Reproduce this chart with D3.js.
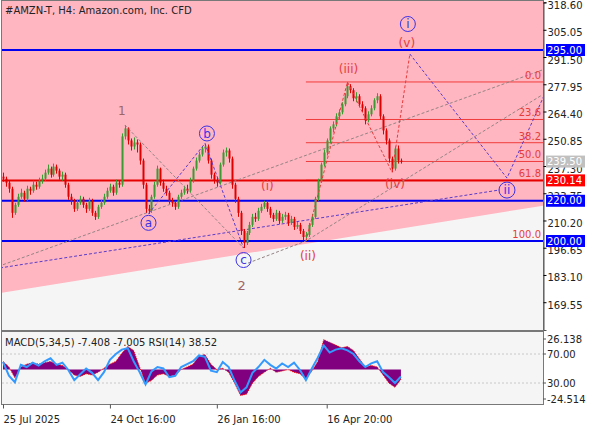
<!DOCTYPE html>
<html>
<head>
<meta charset="utf-8">
<script src="https://cdn.jsdelivr.net/npm/d3@7/dist/d3.min.js"></script>
<style>
  body { margin: 0; background: #fff; }
  svg { display: block; font-family: "DejaVu Sans", sans-serif; }
</style>
</head>
<body>
<svg id="chart"></svg>
<script>
// H4 candles, one value per bar (open = previous close)
const firstOpen = 232;
const closes = [231,229,226,214,218,222,224,221,226,225,228,227,230,231,234,236,233,237,235,232,
  233,228,222,220,216,219,221,218,216,220,214,212,217,219,222,225,227,224,229,228,
  252,256,250,247,249,248,240,228,216,215,222,228,236,229,226,224,220,219,217,222,
  224,226,225,230,236,240,243,246,247,240,233,230,229,238,244,245,241,228,221,214,
  205,199,204,208,212,211,215,217,219,216,213,211,214,210,212,213,209,211,207,208,
  205,202,203,208,212,221,230,238,244,250,256,258,262,264,268,272,277,275,271,272,
  268,266,260,263,266,270,272,262,255,250,241,236,246,240,239.5];
const highs = [234,232,230,227,219,223.5,226,225,227.5,227,230,229.5,231.5,233,235.5,238,237,238.5,238,236,
  234.5,234,229,223.5,221,220.5,222.5,222,219,221.5,221,215,218,220.5,223.5,226.5,228.5,228,230.5,230,
  253.5,257.7,256.5,251,251.5,250.5,249,241,229,218,223,229.5,237.5,236.5,230.5,227.5,225,221.5,220,223,
  225.5,227.5,228,231.5,237,241.5,244.5,247,248.5,248,241,234,231.5,239,245.5,246.5,246,242,229,222,
  215,206,205,209.5,213.5,214,216.5,218.5,220,220,217,214,215.5,215,213.5,214.5,214,212.5,212,209.5,
  209,206,204.5,209,213.5,222,231,239,245.5,251,257,259.5,263.5,265.5,269,273.5,279.1,278,276,274,
  273,269.5,267,264.5,267.5,271,273.5,273,263,256,251,242,247,247.5,241];
const lows = [229.5,227,224,211.5,213,217,221,219.5,220,223,224,225.5,226,228.5,230,233,231.5,232,233.5,230.5,
  230,226.5,220.5,218,214.5,215,218,216.5,214,215,212.5,210.5,211,216,218,221,224,222.5,223,226.5,
  227,250.5,248,245,245.5,244,238,226,214,213.5,214,221,227,227.5,224.5,222.5,218.5,217,215.5,216,
  221,223,223.5,224,229,235,239,242,244,238.5,231,228.5,227,228,237,242,239,226,219,212,
  203,196.5,198,203,207,209.5,210,214,216,214.5,211.5,209.5,210,208.5,209,210.5,207.5,208,205.5,206,
  203.5,200.5,200,202,207,211,220,229,237,242.5,248.5,254,257,260.5,263,267,271,273.5,269.5,269,
  266.5,264,258,259,262,265,268.5,260.5,253,248,239,234.2,235,238.5,238.5];

// MACD(5,34,5) histogram and RSI(14), one value every 2 bars
const macdHist = [6,2,-6,2,4,5,4,5,6,4,3,0,-4,-5,-3,-4,-2,1,4,6,12,17,14,2,-10,-8,-4,-3,-5,-4,
  0,2,4,10,11,4,0,1,-2,-10,-19,-18,-10,-5,-2,1,-2,-1,0,-2,-3,-7,-1,6,22,20,18,16,17,14,
  8,2,3,2,-4,-10,-13,-7];
const rsiValues = [59,40,31,55,52,58,54,60,64,55,58,48,34,42,50,44,34,45,62,70,76,78,60,45,28,46,52,50,38,40,
  52,56,60,68,66,47,45,59,52,33,17,24,44,52,62,55,50,57,52,58,48,34,50,65,82,72,76,78,75,70,
  60,52,57,60,45,38,30,39];
const macdRange = [-24.514, 26.138];
const rsiLevels = [70, 30];

const priceTicks = [318.60,305.05,291.50,277.95,264.40,250.85,237.30,223.75,210.20,196.65,183.10,169.55];
const timeTickBars = [0, 36, 72, 109];
const timeTickLabels = ['25 Jul 2025', '24 Oct 16:00', '26 Jan 16:00', '16 Apr 20:00'];

const blueLevels = [295, 220, 200];
const redLevel = 230.14;
const lastPrice = 239.50;
const fibLevels = [0, 23.6, 38.2, 50, 61.8, 100];
const fibHigh = 279.1, fibLow = 200, fibStartBar = 102;

// wave marks: bar index, price
const waveNames = ['1','a','b','c','(i)','(ii)','(iii)','(iv)','(v)','ii'];
const waveBars =   [41, 49, 68, 81, 88, 102, 116, 131, 137, 169.7];
const wavePrices = [257.7, 213.5, 248.5, 196.5, 220, 200, 279.1, 234.2, 293, 231.3];
const nextTarget = [183, 275];
const channelA = [[0, 188.2], [181.5, 285]];
const channelB = [[-1, 186.6], [167.3, 225.4]];
const channelC = [[82.5, 189], [102, 200], [181.5, 272.6]];
const pinkEdge = [[-1, 174.1], [181.5, 217.9]];

const W = 596, H = 425;
const main = {left: 2, right: 543, top: 1, bottom: 330};
const sub = {top: 332, bottom: 404};

const svg = d3.select('#chart').attr('width', W).attr('height', H);
svg.append('rect').attr('width', W).attr('height', H).attr('fill', '#fff');

const x = d3.scaleLinear().domain([0, 181.5]).range([3, 542]);
const y = d3.scaleLinear().domain([155.73, 318.87]).range([main.bottom, 2]);
const macdY = d3.scaleLinear().domain(macdRange).range([403, 334]);
const rsiY = d3.scaleLinear().domain([30, 70]).range([383, 354]);

const defs = svg.append('defs');
defs.append('clipPath').attr('id', 'mainClip').append('rect')
  .attr('x', main.left).attr('y', main.top)
  .attr('width', main.right - main.left).attr('height', main.bottom - main.top);
defs.append('clipPath').attr('id', 'subClip').append('rect')
  .attr('x', main.left).attr('y', sub.top)
  .attr('width', main.right - main.left).attr('height', sub.bottom - sub.top);

// panels
svg.append('rect').attr('x', main.left).attr('y', main.top)
  .attr('width', main.right - main.left).attr('height', main.bottom - main.top).attr('fill', '#f5f5f5');
svg.append('rect').attr('x', main.left).attr('y', sub.top)
  .attr('width', main.right - main.left).attr('height', sub.bottom - sub.top).attr('fill', '#f5f5f5');

const g = svg.append('g').attr('clip-path', 'url(#mainClip)');

g.append('path')
  .attr('d', d3.line()([[x(pinkEdge[0][0]), 0], [x(pinkEdge[1][0]) + 5, 0],
    [x(pinkEdge[1][0]) + 5, y(pinkEdge[1][1])], [x(pinkEdge[0][0]), y(pinkEdge[0][1])]]) + 'Z')
  .attr('fill', '#ffb6c1');

// fibo lines
fibLevels.forEach(f => {
  const p = fibHigh - (fibHigh - fibLow) * f / 100;
  g.append('line').attr('x1', x(fibStartBar)).attr('x2', main.right)
    .attr('y1', y(p)).attr('y2', y(p)).attr('stroke', '#f03c3c').attr('stroke-width', 1);
});

// horizontal levels
blueLevels.forEach(p => {
  g.append('line').attr('x1', main.left).attr('x2', main.right)
    .attr('y1', y(p)).attr('y2', y(p)).attr('stroke', '#0000f0').attr('stroke-width', 2);
});
g.append('line').attr('x1', main.left).attr('x2', main.right)
  .attr('y1', y(redLevel)).attr('y2', y(redLevel)).attr('stroke', '#e60000').attr('stroke-width', 2);

// channel lines
const lineXY = pts => d3.line()(pts.map(d => [x(d[0]), y(d[1])]));
g.append('path').attr('d', lineXY(channelA)).attr('fill', 'none')
  .attr('stroke', '#948484').attr('stroke-dasharray', '3,2');
g.append('path').attr('d', lineXY(channelC)).attr('fill', 'none')
  .attr('stroke', '#948484').attr('stroke-dasharray', '3,2');
g.append('path').attr('d', lineXY(channelB)).attr('fill', 'none')
  .attr('stroke', '#5a3cc8').attr('stroke-dasharray', '3,2');

// candles
const candles = closes.map((c, i) => ({
  i: i, o: i === 0 ? firstOpen : closes[i - 1], c: c, h: highs[i], l: lows[i]
}));
const cg = g.append('g');
cg.selectAll('.wick').data(candles).enter().append('line')
  .attr('x1', d => Math.round(x(d.i)) + 0.5).attr('x2', d => Math.round(x(d.i)) + 0.5)
  .attr('y1', d => y(d.h)).attr('y2', d => y(d.l))
  .attr('stroke', d => d.c >= d.o ? '#3c9a32' : '#e00000');
cg.selectAll('.body').data(candles).enter().append('rect')
  .attr('x', d => Math.round(x(d.i)) - 0.5).attr('width', 2)
  .attr('y', d => y(Math.max(d.o, d.c)))
  .attr('height', d => Math.max(1, Math.abs(y(d.o) - y(d.c))))
  .attr('fill', d => d.c >= d.o ? '#3c9a32' : '#e00000');

// wave lines
const wp = name => { const k = waveNames.indexOf(name); return [waveBars[k], wavePrices[k]]; };
const dashed = (pts, color) => g.append('path').attr('d', lineXY(pts)).attr('fill', 'none')
  .attr('stroke', color).attr('stroke-dasharray', '3,2');
dashed([wp('1'), wp('c')], '#948484');
dashed([wp('a'), wp('b'), wp('c')], '#5a3cc8');
dashed([wp('(ii)'), wp('(iii)'), wp('(iv)'), wp('(v)')], '#e63c3c');
dashed([wp('(v)'), wp('ii'), nextTarget], '#5a3cc8');

// fibo labels
fibLevels.forEach(f => {
  const p = fibHigh - (fibHigh - fibLow) * f / 100;
  g.append('text').attr('x', main.right - 2).attr('y', y(p) - 3)
    .attr('text-anchor', 'end').attr('font-size', 10).attr('fill', '#e63c3c')
    .text(f.toFixed(1));
});

// wave labels
const plain = [['1', -3, -14, '#a06464'], ['(i)', 3, -15, '#e63c3c'], ['(ii)', 2, 15, '#e63c3c'],
  ['(iii)', 1, -13, '#e63c3c'], ['(iv)', 3, 12, '#e63c3c'], ['(v)', -3, -11, '#e63c3c']];
plain.forEach(([n, dx, dy, col]) => {
  const p = wp(n);
  g.append('text').attr('x', x(p[0]) + dx).attr('y', y(p[1]) + dy)
    .attr('text-anchor', 'middle').attr('dy', '0.35em')
    .attr('font-size', 12).attr('fill', col).text(n);
});
g.append('text').attr('x', x(wp('c')[0]) - 2).attr('y', y(wp('c')[1]) + 37)
  .attr('text-anchor', 'middle').attr('dy', '0.35em').attr('font-size', 13)
  .attr('fill', '#a06464').text('2');
const circled = [['a', 'a', 0, 9], ['b', 'b', 2, -10], ['c', 'c', 0, 12], ['i', '(v)', -2, -30], ['ii', 'ii', 0, 12]];
circled.forEach(([t, n, dx, dy]) => {
  const p = wp(n);
  const cx = x(p[0]) + dx, cy = y(p[1]) + dy;
  g.append('circle').attr('cx', cx).attr('cy', cy).attr('r', t.length > 1 ? 8 : 7.5)
    .attr('fill', 'none').attr('stroke', '#3c32e6');
  g.append('text').attr('x', cx).attr('y', cy).attr('dy', '0.36em').attr('text-anchor', 'middle')
    .attr('font-size', 12).attr('fill', '#3c32e6').text(t);
});

// indicator window
const s = svg.append('g').attr('clip-path', 'url(#subClip)');
rsiLevels.forEach(v => {
  s.append('line').attr('x1', main.left).attr('x2', main.right)
    .attr('y1', rsiY(v)).attr('y2', rsiY(v)).attr('stroke', '#c8c8c8').attr('stroke-dasharray', '2,2');
});
s.append('path').datum(macdHist)
  .attr('d', d3.area().x((d, k) => x(k * 2)).y0(macdY(0)).y1(d => macdY(d)))
  .attr('fill', '#800080');
s.append('path').datum(macdHist)
  .attr('d', d3.line().x((d, k) => x(k * 2)).y(d => macdY(d)))
  .attr('fill', 'none').attr('stroke', '#ff0000').attr('stroke-dasharray', '1,1');
s.append('path').datum(rsiValues)
  .attr('d', d3.line().x((d, k) => x(k * 2)).y(d => rsiY(d)))
  .attr('fill', 'none').attr('stroke', '#3399ff').attr('stroke-width', 2);

// frames
svg.append('rect').attr('x', main.left - 0.5).attr('y', main.top - 0.5)
  .attr('width', main.right - main.left + 1).attr('height', main.bottom - main.top + 1)
  .attr('fill', 'none').attr('stroke', '#787878');
svg.append('rect').attr('x', main.left - 0.5).attr('y', sub.top - 0.5)
  .attr('width', main.right - main.left + 1).attr('height', sub.bottom - sub.top + 1)
  .attr('fill', 'none').attr('stroke', '#787878');

// right price axis
const yAxis = svg.append('g').attr('transform', `translate(${main.right + 0.5},0)`)
  .call(d3.axisRight(y).tickValues(priceTicks).tickFormat(d3.format('.2f')).tickSize(3).tickPadding(1));
yAxis.select('.domain').attr('stroke', '#555');
yAxis.selectAll('text').attr('font-size', 10).attr('fill', '#222').attr('font-family', 'DejaVu Sans')
  .attr('dy', '0.6em');

// price tags
const tag = (p, bg) => {
  const ty = y(p);
  svg.append('rect').attr('x', 546).attr('y', ty - 6).attr('width', 39).attr('height', 12).attr('fill', bg);
  svg.append('text').attr('x', 547).attr('y', ty).attr('dy', '0.36em')
    .attr('font-size', 10).attr('fill', '#fff').text(p.toFixed(2));
};
tag(lastPrice, '#c0c0c0');
tag(redLevel, '#ff0000');
blueLevels.forEach(p => tag(p, '#0000ff'));

// indicator axis labels
const subLabels = [[macdRange[1], macdY(macdRange[1]) + 5], [70, rsiY(70)], [30, rsiY(30)], [macdRange[0], macdY(macdRange[0]) - 4]];
subLabels.forEach(([v, ly]) => {
  svg.append('text').attr('x', 547).attr('y', ly).attr('dy', '0.36em').attr('font-size', 10).attr('fill', '#222')
    .text(Number.isInteger(v) ? v.toFixed(2) : v.toFixed(3));
});
svg.append('g').selectAll('line').data([macdY(macdRange[1]) + 5, rsiY(70), rsiY(30), macdY(macdRange[0]) - 4])
  .enter().append('line').attr('x1', main.right).attr('x2', main.right + 3)
  .attr('y1', d => d).attr('y2', d => d).attr('stroke', '#555');

// time axis
const xAxis = svg.append('g').attr('transform', `translate(0,${sub.bottom + 0.5})`)
  .call(d3.axisBottom(x).tickValues(timeTickBars).tickFormat((d, k) => timeTickLabels[k]).tickSize(4));
xAxis.select('.domain').remove();
xAxis.selectAll('text').attr('text-anchor', 'start').attr('dy', '1.1em').attr('font-size', 10)
  .attr('fill', '#222').attr('font-family', 'DejaVu Sans');
xAxis.selectAll('line').attr('stroke', '#555');

// titles
svg.append('text').attr('x', 5).attr('y', 14).attr('font-size', 10).attr('fill', '#222')
  .text('#AMZN-T, H4:  Amazon.com, Inc. CFD');
svg.append('text').attr('x', 5).attr('y', 346).attr('font-size', 10).attr('fill', '#222')
  .text('MACD(5,34,5) -7.408 -7.005 RSI(14) 38.52');
</script>
</body>
</html>
